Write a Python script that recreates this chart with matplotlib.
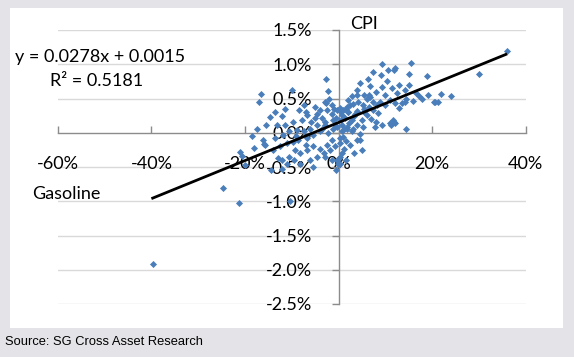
import matplotlib.pyplot as plt
from matplotlib.patches import Rectangle
from matplotlib.ticker import FuncFormatter

# gasoline monthly % change vs CPI monthly % change (both in percent)
gasoline = [
    -39.6, -24.7, -21.3, -10.3, -20.0, -14.4, -21.0, -20.7,
    -16.6, -17.0, -10.0, -2.7, -2.3, -2.7, -2.0, -6.9, -5.0, -4.0,
    -14.6, -12.0, -13.2, -11.4, -9.7, -7.9, -6.8, -5.0, -4.7, -3.6, -2.5,
    -1.5, -1.1, -2.9, -4.7, -6.1, -7.5, -8.9, -10.7, -11.8, -13.6, -16.1,
    -15.7, -14.1, -12.5, -11.1, -9.7, -8.6, -6.8, -5.4, -4.0, -2.2, -1.1,
    -1.5, -2.5, -4.0, -5.4, -6.8, -8.2, -9.3, -10.7, -12.1, -12.9, -12.1,
    -11.1, -8.2, -6.1, -4.7, -3.2, -1.8, -0.7, -0.4, -1.5, -18.5, -17.5,
    -15.5, -18.0, -16.0,
    9.2, 7.3, 9.0, 10.6, 12.1, 6.2, 4.6, 6.7, 9.2, 10.3, 11.4, 12.4, 5.4,
    3.9, 2.8, 6.0, 7.4, 8.9, 9.9, 11.0, 12.1, 12.8, 6.4, 5.3, 4.2, 7.4,
    8.5, 6.0, 5.0, 3.5, 1.7, 1.0, 2.1, 0.3, -0.4, 0.7, 1.4, 2.8, 3.9, 5.3,
    7.8, 9.2, 11.0, 11.7, 2.8, 4.6, 3.9, 4.9, 1.7, 0.7, 1.0, 0.3, 1.2, 0.3,
    0.2,
    36.0, 30.0, 24.1, 21.8, 20.3, 21.3, 18.8, 17.2, 15.4, 15.0, 15.0, 14.1,
    14.3, 11.9, 11.8, 11.3, 14.5, 16.5, 17.8, 13.5, 15.8, 19.2, 14.2, 20.6,
    12.1, 8.0, 5.5, 3.0, 2.0, -0.8, 0.5, 1.8, 4.0, 6.5,
    -3.5, -2.8, -1.0, 0.5, 1.5, 2.5, 3.2, -0.5, 0.8, 2.2, 3.0, 1.2, -0.3,
    0.4, 1.5, 2.5, 0.8, 1.6, -0.6, 4.5, 3.3, 5.5, 6.8, 8.0, 7.0, 8.2, -6.0,
    -7.0, -9.0, -3.0, -5.5, -9.5, -11.5, -13.5, -7.5, -8.5, -3.0, -1.5, 4.0,
    2.0, 10.0, 13.0, -0.2,
]
cpi = [
    -1.92, -0.80, -1.02, -1.00, -0.47, -0.54, -0.28, -0.34,
    0.57, 0.45, 0.63, 0.79, 0.61, 0.44, 0.49, 0.31, 0.38, 0.33,
    0.23, 0.24, 0.11, 0.11, 0.16, 0.19, 0.26, 0.21, 0.28, 0.21, 0.33,
    0.28, 0.19, 0.11, 0.11, 0.06, 0.02, 0.04, 0.02, -0.03, -0.07, -0.11,
    -0.18, -0.25, -0.19, -0.15, -0.13, -0.11, -0.08, -0.03, 0.02, -0.01, 0.06,
    -0.11, -0.18, -0.23, -0.20, -0.25, -0.30, -0.25, -0.35, -0.40, -0.37, -0.53,
    -0.45, -0.45, -0.40, -0.35, -0.30, -0.25, -0.20, -0.40, -0.40, -0.05, 0.05,
    0.12, -0.22, -0.17,
    1.00, 0.89, 0.84, 0.92, 0.94, 0.79, 0.72, 0.68, 0.67, 0.75, 0.65, 0.58, 0.55,
    0.55, 0.53, 0.50, 0.45, 0.45, 0.41, 0.48, 0.43, 0.36, 0.38, 0.41, 0.45, 0.33,
    0.29, 0.26, 0.19, 0.28, 0.38, 0.33, 0.31, 0.36, 0.33, 0.26, 0.21, 0.19, 0.11, 0.09,
    0.09, 0.11, 0.14, 0.19, 0.02, -0.02, -0.10, -0.25, 0.09, 0.02, -0.06, -0.15, -0.24, -0.35,
    -0.45,
    1.20, 0.86, 0.54, 0.57, 0.45, 0.45, 0.83, 0.54, 1.02, 0.86, 0.69, 0.62,
    0.06, 0.91, 0.16, 0.11, 0.50, 0.58, 0.50, 0.44, 0.47, 0.55, 0.45, 0.45,
    0.14, 0.15, 0.35, 0.42, 0.30, 0.12, 0.18, 0.05, 0.32, 0.55,
    0.05, 0.15, 0.35, 0.30, 0.35, 0.40, 0.25, 0.22, 0.12, 0.14, 0.05, 0.05, 0.08,
    -0.08, -0.12, -0.18, -0.30, -0.40, -0.55, -0.10, -0.30, 0.30, 0.52, 0.60, 0.20, 0.40, 0.15,
    -0.18, -0.05, -0.35, -0.50, -0.40, 0.35, 0.30, 0.40, 0.33, 0.45, 0.40, 0.62,
    0.48, 0.55, 0.70, -0.45,
]

# trendline from the equation shown on the chart
slope = 0.0278
intercept = 0.0015
trend_x = [-0.40, 0.36]

y_ticks = [-0.025, -0.02, -0.015, -0.01, -0.005, 0.0, 0.005, 0.01, 0.015]
x_ticks = [-0.6, -0.4, -0.2, 0.0, 0.2, 0.4]


def main():
    fig = plt.figure(figsize=(5.74, 3.57), dpi=100)
    fig.patch.set_facecolor('#e4e4e8')
    fig.patches.append(Rectangle((10 / 574, 29 / 357), 553 / 574, 320 / 357,
                                 transform=fig.transFigure, facecolor='white',
                                 edgecolor='none', zorder=-10))

    ax = fig.add_axes([57.8 / 574, 53 / 357, 468 / 574, 274 / 357])
    ax.set_facecolor('none')

    xs = [v / 100 for v in gasoline]
    ys = [v / 100 for v in cpi]
    ax.scatter(xs, ys, s=13, marker='D', color='#4a7ebb', linewidths=0, zorder=3)

    ty = [slope * x + intercept for x in trend_x]
    ax.plot(trend_x, ty, color='black', lw=2.0, solid_capstyle='butt', zorder=4)

    ax.set_xlim(-0.6, 0.4)
    ax.set_ylim(-0.025, 0.015)
    ax.set_xticks(x_ticks)
    ax.set_yticks(y_ticks)
    ax.xaxis.set_major_formatter(FuncFormatter(lambda v, p: '%d%%' % round(v * 100)))
    ax.yaxis.set_major_formatter(FuncFormatter(lambda v, p: '%.1f%%' % (v * 100)))

    for y in y_ticks:
        if y != 0:
            ax.axhline(y, color='#d9d9d9', lw=1.0, zorder=1)

    ax.spines['top'].set_visible(False)
    ax.spines['right'].set_visible(False)
    ax.spines['left'].set_position(('data', 0))
    ax.spines['bottom'].set_position(('data', 0))
    for s in ('left', 'bottom'):
        ax.spines[s].set_color('#8c8c8c')
        ax.spines[s].set_linewidth(1.0)
        ax.spines[s].set_zorder(2)

    font = 'Lato'
    fs = 13
    ax.tick_params(axis='y', direction='out', length=5, width=1.0, color='#8c8c8c',
                   pad=14, labelsize=fs, labelcolor='black')
    ax.tick_params(axis='x', direction='in', length=5, width=1.0, color='#8c8c8c',
                   pad=17, labelsize=fs, labelcolor='black')
    for lab in ax.get_xticklabels() + ax.get_yticklabels():
        lab.set_family(font)

    fig.text(350 / 574, 1 - 24 / 357, 'CPI', family=font, fontsize=fs, va='center')
    fig.text(32 / 574, 1 - 194 / 357, 'Gasoline', family=font, fontsize=fs, va='center')
    fig.text(15 / 574, 1 - 57 / 357, 'y = 0.0278x + 0.0015', family=font,
             fontsize=fs, va='center')
    fig.text(50 / 574, 1 - 81 / 357, 'R² = 0.5181', family=font, fontsize=fs,
             va='center')
    fig.text(5 / 574, 1 - 342 / 357, 'Source: SG Cross Asset Research',
             family='Liberation Sans', fontsize=9.3, va='center')

    fig.savefig('out.png', dpi=100, facecolor=fig.get_facecolor())


if __name__ == "__main__":
    main()
